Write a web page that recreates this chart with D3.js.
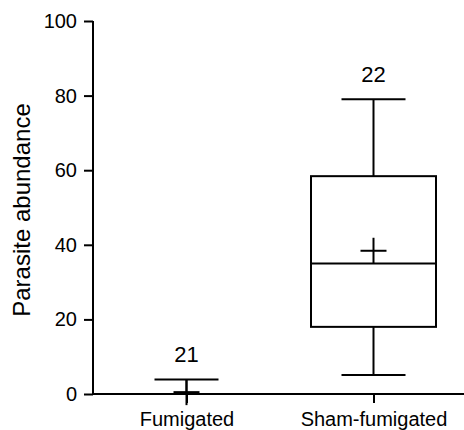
<!DOCTYPE html>
<html><head><meta charset="utf-8">
<script src="https://cdn.jsdelivr.net/npm/d3@7"></script>
<style>body{margin:0;background:#fff}svg{display:block}text{font-family:"Liberation Sans",Arial,sans-serif;fill:#000}</style>
</head><body><svg id="c" width="464" height="430"></svg>
<script>
const categories = ["Fumigated", "Sham-fumigated"];
const whiskerLow = [0, 5.1];
const q1 = [0, 18.0];
const median = [0, 35.0];
const q3 = [0, 58.4];
const whiskerHigh = [3.9, 79.0];
const means = [0.5, 38.4];
const sampleSizes = ["21", "22"];
const yTicks = [0, 20, 40, 60, 80, 100];

const svg = d3.select("#c");
const x = d3.scalePoint().domain(categories).range([93, 467]).padding(0.5);
const y = d3.scaleLinear().domain([0, 100]).range([394, 21]);
const boxHalf = 62.5, capHalf = 32, crossHalf = 13;
const sw = 2;

const data = categories.map((c, i) => ({c, lo: whiskerLow[i], q1: q1[i], med: median[i], q3: q3[i], hi: whiskerHigh[i], mean: means[i], n: sampleSizes[i]}));

const g = svg.append("g");
data.forEach(d => {
  const cx = x(d.c);
  const line = (x1, y1, x2, y2) => g.append("line").attr("x1", x1).attr("y1", y1).attr("x2", x2).attr("y2", y2).attr("stroke", "#000").attr("stroke-width", sw);
  line(cx, y(d.hi), cx, y(d.q3));
  line(cx, y(d.q1), cx, y(d.lo));
  line(cx - capHalf, y(d.hi), cx + capHalf, y(d.hi));
  line(cx - capHalf, y(d.lo), cx + capHalf, y(d.lo));
  g.append("rect").attr("x", cx - boxHalf).attr("y", y(d.q3)).attr("width", 2 * boxHalf).attr("height", y(d.q1) - y(d.q3))
    .attr("fill", "none").attr("stroke", "#000").attr("stroke-width", sw);
  line(cx - boxHalf, y(d.med), cx + boxHalf, y(d.med));
  line(cx - crossHalf, y(d.mean), cx + crossHalf, y(d.mean));
  line(cx, y(d.mean) - crossHalf, cx, y(d.mean) + crossHalf);
  g.append("text").attr("x", cx).attr("y", y(d.hi) - 17).attr("text-anchor", "middle").attr("font-size", 22).text(d.n);
});

const yAxis = svg.append("g").attr("transform", "translate(93,0)")
  .call(d3.axisLeft(y).tickValues(yTicks).tickSize(9).tickPadding(7).tickFormat(d3.format("d")));
yAxis.selectAll("path,line").attr("stroke", "#000").attr("stroke-width", sw);
yAxis.select(".domain").attr("d", `M0,${y(100)}V${y(0)}`);
yAxis.selectAll("text").attr("font-size", 20).attr("font-family", '"Liberation Sans",Arial,sans-serif').attr("fill", "#000");

const xAxis = svg.append("g").attr("transform", `translate(0,${y(0)})`)
  .call(d3.axisBottom(x).tickSize(9).tickPadding(9));
xAxis.selectAll("path,line").attr("stroke", "#000").attr("stroke-width", sw);
xAxis.select(".domain").attr("d", "M93,0H464");
xAxis.selectAll("text").attr("font-size", 20).attr("font-family", '"Liberation Sans",Arial,sans-serif').attr("fill", "#000");

svg.append("text").attr("transform", "translate(30,210) rotate(-90)").attr("text-anchor", "middle")
  .attr("font-size", 24).text("Parasite abundance");
</script></body></html>
